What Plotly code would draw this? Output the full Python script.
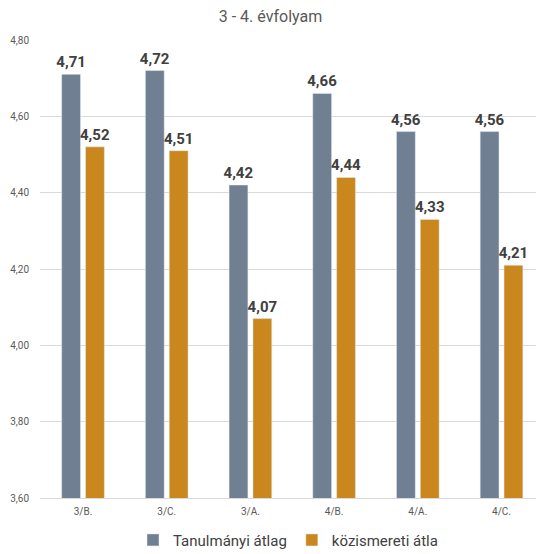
import plotly.graph_objects as go

categories = ["3/B.", "3/C.", "3/A.", "4/B.", "4/A.", "4/C."]
tanulmanyi = [4.71, 4.72, 4.42, 4.66, 4.56, 4.56]
kozismereti = [4.52, 4.51, 4.07, 4.44, 4.33, 4.21]
y_ticks = [3.6, 3.8, 4.0, 4.2, 4.4, 4.6, 4.8]

def fmt(v):
    return f"{v:.2f}".replace(".", ",")

label_font = dict(size=15, color="#404040", family="Roboto", weight="bold")

fig = go.Figure()
fig.add_trace(go.Bar(x=categories, y=tanulmanyi, name="Tanulmányi átlag",
                     marker_color="#717F93", text=[fmt(v) for v in tanulmanyi],
                     textposition="outside", cliponaxis=False, constraintext="none",
                     textfont=label_font))
fig.add_trace(go.Bar(x=categories, y=kozismereti, name="közismereti átla",
                     marker_color="#C9871E", text=[fmt(v) for v in kozismereti],
                     textposition="outside", cliponaxis=False, constraintext="none",
                     textfont=label_font))

fig.update_layout(
    width=541, height=554,
    margin=dict(l=40, r=5, t=40, b=56, autoexpand=False),
    paper_bgcolor="white", plot_bgcolor="white",
    barmode="group", bargap=0.43, bargroupgap=0.21,
    title=dict(text="3 - 4. évfolyam", x=0.5, xanchor="center", y=0.971, yanchor="middle",
               font=dict(size=16, color="#595959", family="Roboto")),
    font=dict(family="Roboto"),
    showlegend=True,
    legend=dict(orientation="h", x=0.5, xanchor="center", yref="container", y=0.025,
                yanchor="middle", font=dict(size=15, color="#404040"), itemwidth=30),
)
fig.update_xaxes(range=[-0.514, 5.412], showgrid=False, showline=True, linecolor="#d9d9d9",
                 ticks="", ticklabelstandoff=4, tickfont=dict(size=10, color="#595959"))
fig.update_yaxes(range=[3.6, 4.8], tickvals=y_ticks, ticktext=[fmt(v) for v in y_ticks],
                 showgrid=True, gridcolor="#d9d9d9", zeroline=False, ticks="",
                 ticklabelstandoff=10, tickfont=dict(size=10, color="#595959"))

fig.write_html("out.html", config={"displayModeBar": False},
               post_script="document.body.style.margin='0';")
